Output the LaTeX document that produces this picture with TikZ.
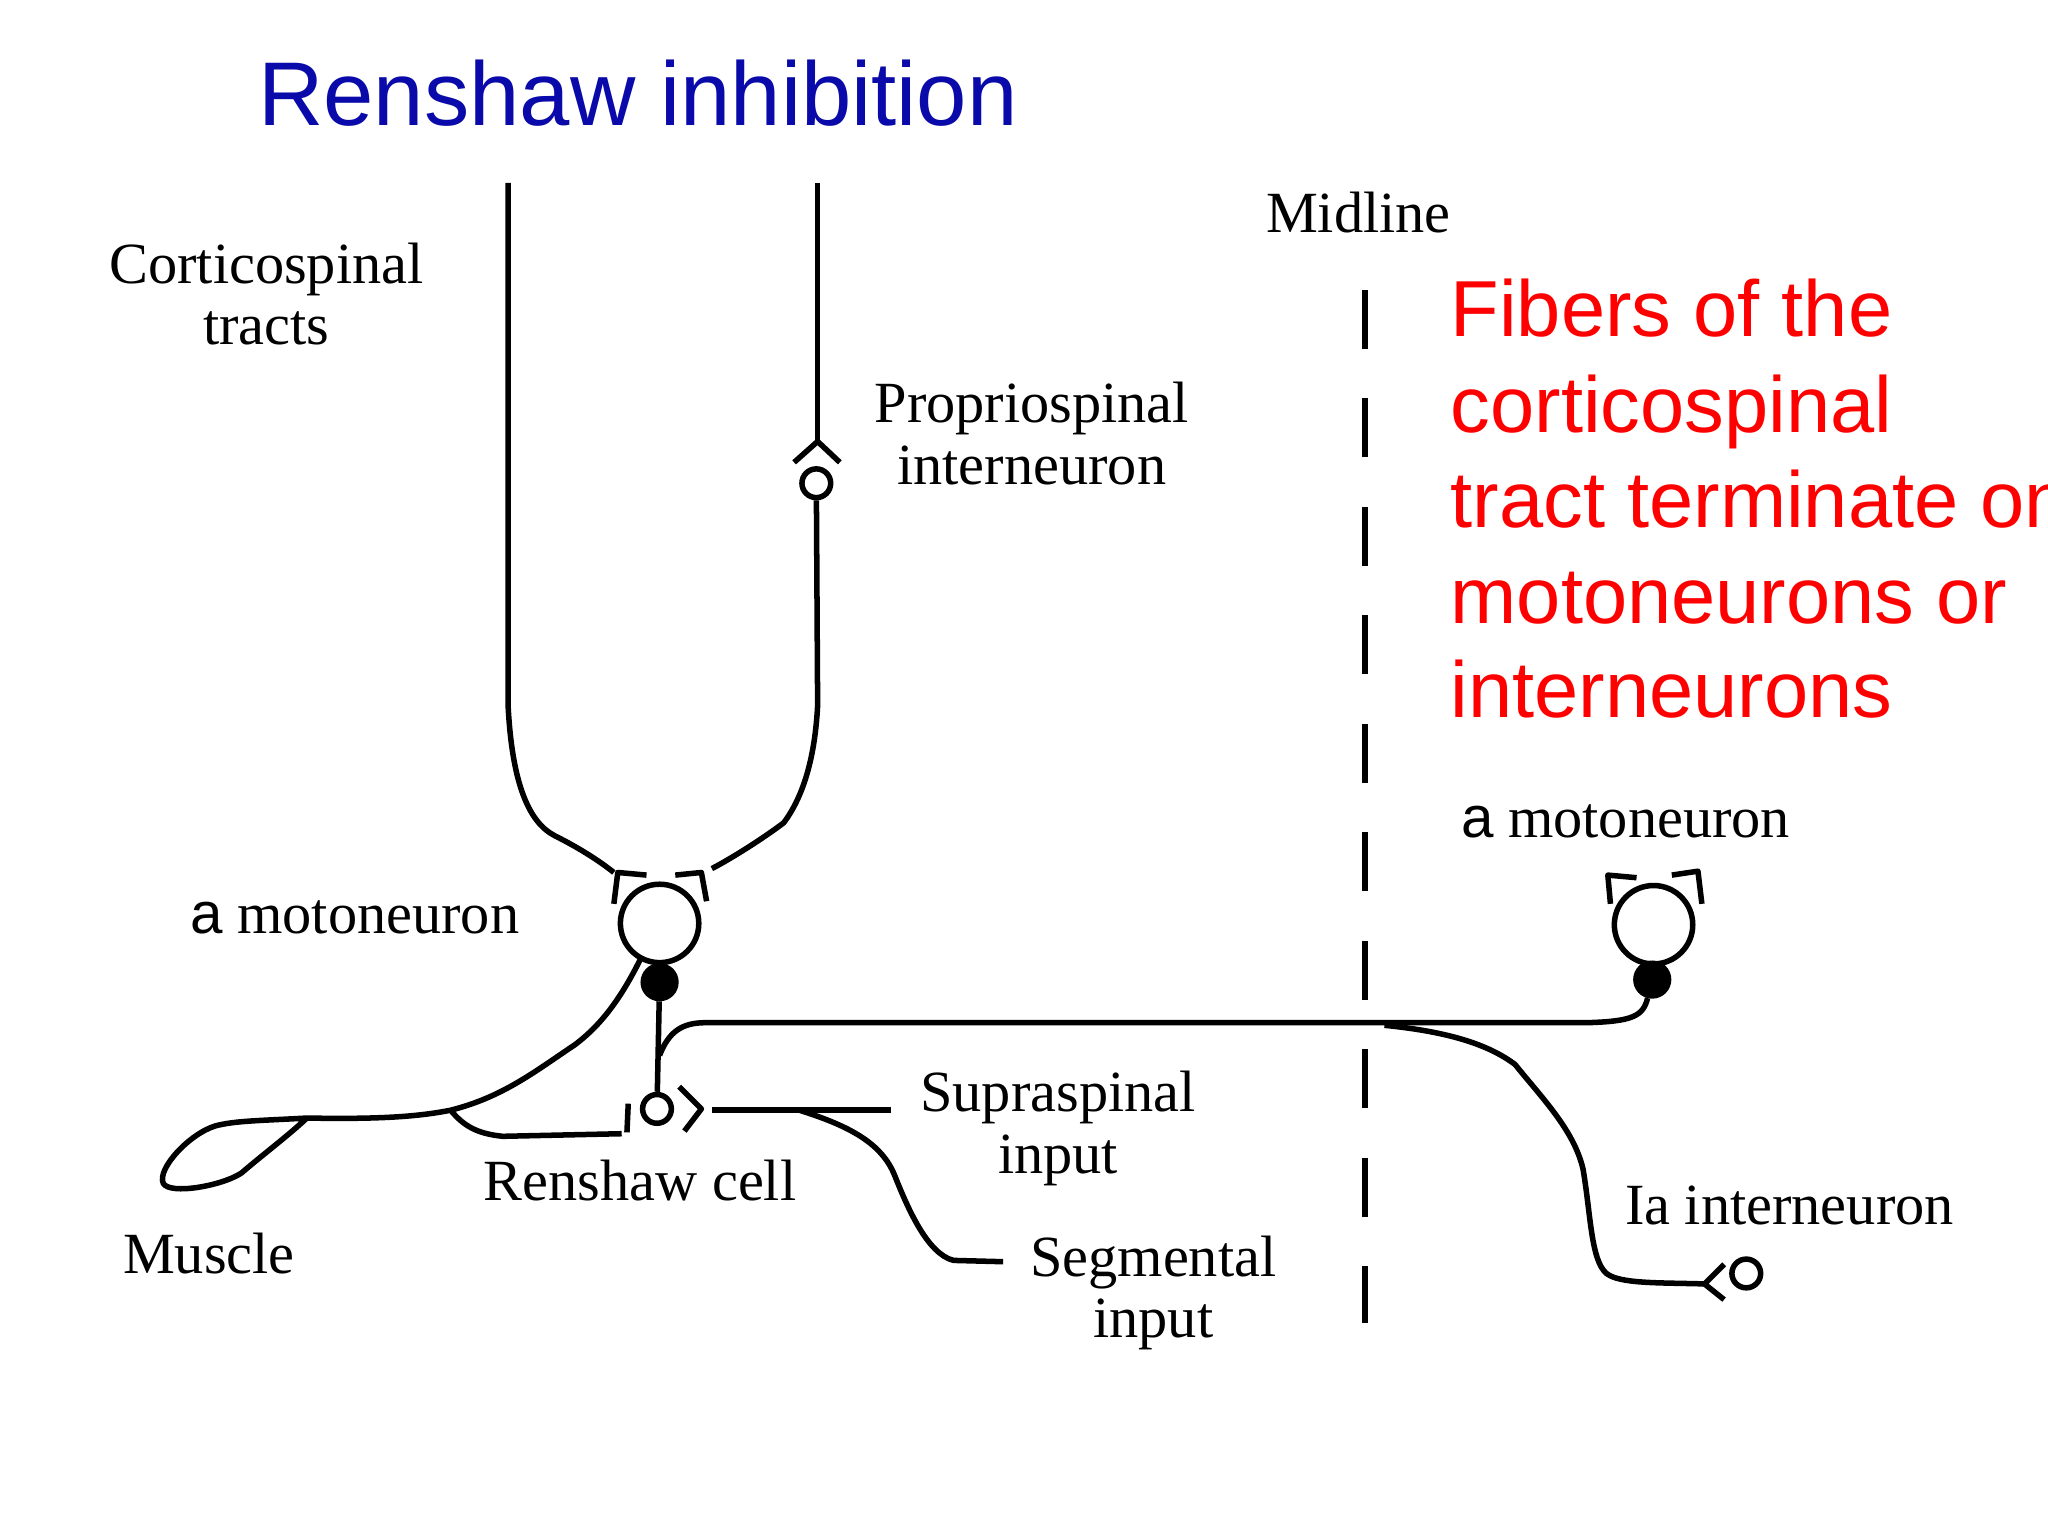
\documentclass[tikz,border=0pt]{standalone}
\usepackage{fontspec}
\setmainfont{Liberation Serif}
\newfontfamily\sansf{Liberation Sans}
\begin{document}
\begin{tikzpicture}[x=0.01cm,y=-0.01cm,
  ln/.style={line width=1.2pt,line join=round},
  cell/.style={circle,draw,line width=1.2pt,inner sep=0pt},
  lab/.style={font=\fontsize{12.7pt}{13.4pt}\selectfont,align=center,inner sep=0pt},
  red/.style={font=\sansf\fontsize{17.3pt}{20.8pt}\selectfont,text=red,anchor=base west,inner sep=0pt}]
\useasboundingbox (0,0) rectangle (1568,1176);
\fill[white] (0,0) rectangle (1568,1176);
% cells
\node[cell,minimum size=0.6cm] (mL) at (505,707) {};
\node[cell,fill=black,minimum size=0.25cm] (fL) at (505,752) {};
\node[cell,minimum size=0.22cm] (rc) at (503,849) {};
\node[cell,minimum size=0.22cm] (pp) at (625,370) {};
\node[cell,minimum size=0.6cm] (mR) at (1266,708) {};
\node[cell,fill=black,minimum size=0.25cm] (fR) at (1265,750) {};
\node[cell,minimum size=0.22cm] (ia) at (1337,975) {};
% corticospinal tracts
\draw[ln] (389,140) -- (389,540) .. controls (392,600) and (405,630) .. (425,640) .. controls (445,650) and (460,660) .. (470,668);
\draw[ln] (626,140) -- (626,338);
\draw[ln] (608,354) -- (626,338) -- (643,354);
\draw[ln] (pp) -- (626,540) .. controls (624,580) and (615,610) .. (600,630) .. controls (580,645) and (555,660) .. (545,665);
% motoneuron brackets
\draw[ln] (470,692) -- (473,668) -- (495,670);
\draw[ln] (517,670) -- (537,668) -- (541,690);
\draw[ln] (1233,692) -- (1231,670) -- (1253,672);
\draw[ln] (1280,670) -- (1300,667) -- (1303,692);
% Renshaw
\draw[ln] (fL) -- (rc);
\draw[ln] (520,832) -- (537,849) -- (524,866);
\draw[ln] (480,867) -- (481,845);
\draw[ln] (345,850) .. controls (355,862) and (365,868) .. (385,870) -- (476,868);
% motor axon and muscle
\draw[ln] (490,735) .. controls (475,765) and (460,785) .. (440,800) .. controls (410,820) and (385,840) .. (345,850) .. controls (320,855) and (290,857) .. (235,856);
\draw[ln] (235,856) .. controls (200,858) and (180,858) .. (165,862) .. controls (145,868) and (120,895) .. (125,906) .. controls (130,915) and (170,908) .. (185,898) .. controls (200,885) and (220,870) .. (235,856);
% collateral to right
\draw[ln] (505,808) .. controls (512,790) and (522,783) .. (540,783) -- (1215,783) .. controls (1250,782) and (1258,778) .. (fR);
\draw[ln] (1060,785) .. controls (1110,790) and (1140,800) .. (1160,815) .. controls (1180,840) and (1205,865) .. (1212,895) .. controls (1218,930) and (1218,965) .. (1230,975) .. controls (1240,983) and (1270,982) .. (1305,983);
\draw[ln] (1320,968) -- (1305,983) -- (1320,995);
% inputs
\draw[ln] (545,850) -- (682,850);
\draw[ln] (612,850) .. controls (650,862) and (675,875) .. (685,900) .. controls (695,925) and (710,960) .. (730,965) -- (768,966);
% midline
\draw[ln,dash pattern=on 0.45cm off 0.38cm] (1045,222) -- (1045,1013);
% texts
\node[font=\sansf\fontsize{19.7pt}{24pt}\selectfont,text={rgb,255:red,10;green,10;blue,170},anchor=base west,inner sep=0pt] (title) at (197,96) {Renshaw inhibition};
\node[lab] (t1) at (204,225) {Corticospinal\\tracts};
\node[lab] (t2) at (790,332) {Propriospinal\\interneuron};
\node[lab] (t3) at (1040,163) {Midline};
\node[red] (r1) at (1110,258) {Fibers of the};
\node[red] (r2) at (1110,331) {corticospinal};
\node[red] (r3) at (1110,404) {tract terminate on};
\node[red] (r4) at (1110,477) {motoneurons or};
\node[red] (r5) at (1110,549) {interneurons};
\node[lab,anchor=base west] (a1) at (145,715) {{\sansf a} motoneuron};
\node[lab,anchor=base west] (a2) at (1118,641) {{\sansf a} motoneuron};
\node[lab] (t4) at (490,904) {Renshaw cell};
\node[lab] (t5) at (160,960) {Muscle};
\node[lab] (t6) at (810,864) {Supraspinal\\input};
\node[lab] (t7) at (883,990) {Segmental\\input};
\node[lab] (t8) at (1370,923) {Ia interneuron};
\end{tikzpicture}
\end{document}
